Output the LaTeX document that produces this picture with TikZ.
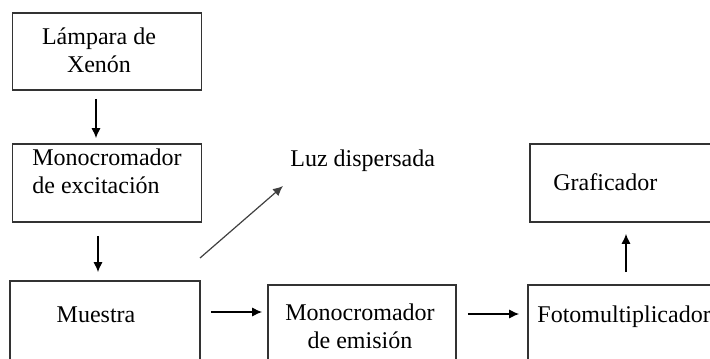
\documentclass[tikz,border=0pt]{standalone}
\usepackage{fontspec}
\setmainfont{Liberation Serif}
\usetikzlibrary{arrows.meta}

\tikzset{
  caja/.style={draw=black!80, line width=0.9pt, inner sep=0pt},
  texto/.style={inner sep=0pt, font=\fontsize{12}{14}\selectfont},
  flecha/.style={-{Latex[length=5pt,width=4.6pt]}, line width=0.6pt}
}

\begin{document}
\begin{tikzpicture}[x=0.5pt,y=-0.5pt]
        \useasboundingbox (0,0) rectangle (710,358);

        % cajas
        \node[caja, minimum width=94.5pt, minimum height=38.5pt] (lampara) at (107,51.5) {};
        \node[caja, minimum width=94.5pt, minimum height=39pt] (monoexc) at (107,183) {};
        \node[caja, minimum width=95pt, minimum height=40.5pt] (muestra) at (105,321.5) {};
        \node[caja, minimum width=94pt, minimum height=38.5pt] (monoem) at (362,323.5) {};
        \node[caja, minimum width=96pt, minimum height=38.5pt] (foto) at (624,323.5) {};
        \node[caja, minimum width=95pt, minimum height=39pt] (grafic) at (625,183) {};

        % textos (base = ultima linea)
        \node[texto, anchor=base, align=center] (tlampara) at (99,73) {Lámpara de\\Xenón};
        \node[texto, anchor=base west, align=left] (tmonoexc) at (32,193) {Monocromador\\de excitación};
        \node[texto, anchor=base] (tmuestra) at (96,322) {Muestra};
        \node[texto, anchor=base, align=center] (tmonoem) at (360,348) {Monocromador\\de emisión};
        \node[texto, anchor=base west] (tfoto) at (537,322) {Fotomultiplicador};
        \node[texto, anchor=base west] (tgrafic) at (553,190) {Graficador};
        \node[texto, anchor=base west] (luz) at (290,166) {Luz dispersada};

        % flechas
        \draw[flecha, shorten <=4pt, shorten >=2.5pt] ([xshift=-5.5pt]lampara.south) -- ([xshift=-5.5pt]monoexc.north);
        \draw[flecha, shorten <=6.5pt, shorten >=4pt] ([xshift=-4.5pt]monoexc.south) -- ([xshift=-3.5pt]muestra.north);

        \coordinate (m1) at ([yshift=4.75pt]muestra.east);
        \draw[flecha, shorten <=5pt, shorten >=2.5pt] (m1) -- (m1 -| monoem.west);
        \coordinate (m2) at ([yshift=4.75pt]monoem.east);
        \draw[flecha, shorten <=5.5pt, shorten >=4pt] (m2) -- (m2 -| foto.west);

        \draw[flecha, shorten <=6pt, shorten >=5.5pt] ([xshift=1pt]foto.north) -- ([xshift=0.5pt]grafic.south);

        \coordinate (salida) at (200,258);
        \coordinate (llegada) at (283,186);
        \draw[flecha, black!75] (salida) -- (llegada);

    \end{tikzpicture}
\end{document}
